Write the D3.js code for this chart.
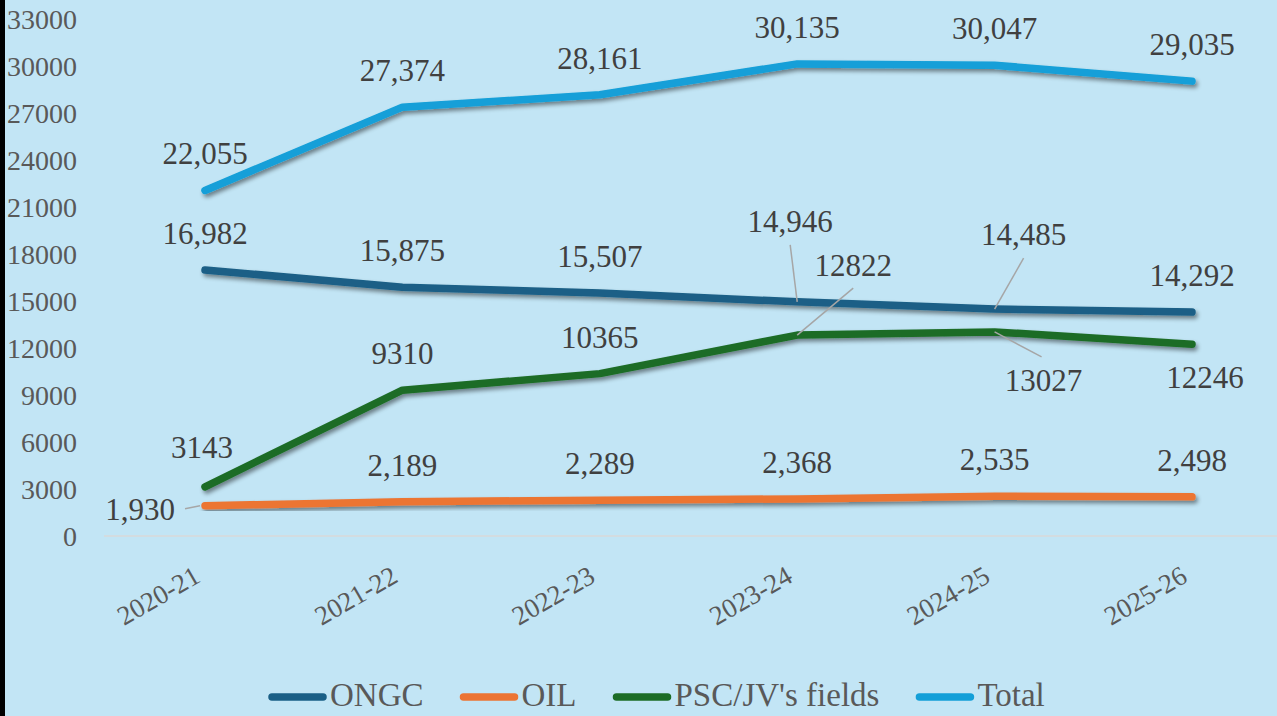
<!DOCTYPE html>
<html><head><meta charset="utf-8">
<script src="https://cdn.jsdelivr.net/npm/d3@7"></script>
<style>
html,body{margin:0;padding:0;background:#C2E5F5;}
svg{display:block;}
</style></head>
<body>
<svg id="c" width="1277" height="716"></svg>
<script>
const categories = ["2020-21","2021-22","2022-23","2023-24","2024-25","2025-26"];
const ongcValues = [16982,15875,15507,14946,14485,14292];
const oilValues = [1930,2189,2289,2368,2535,2498];
const pscValues = [3143,9310,10365,12822,13027,12246];
const totalValues = [22055,27374,28161,30135,30047,29035];
const yTickValues = [0,3000,6000,9000,12000,15000,18000,21000,24000,27000,30000,33000];
const seriesNames = ["ONGC","OIL","PSC/JV's fields","Total"];

const fmtComma = d3.format(",");
const fmtPlain = d3.format("d");
const series = [
  {name: seriesNames[0], values: ongcValues, color: "#1A5F86", fmt: fmtComma},
  {name: seriesNames[1], values: oilValues, color: "#EC7433", fmt: fmtComma},
  {name: seriesNames[2], values: pscValues, color: "#1C6C26", fmt: fmtPlain},
  {name: seriesNames[3], values: totalValues, color: "#139FD8", fmt: fmtComma}
];
const labelOffsets = {
  "0-3": {dx: -7, dy: -70, leader: [[0,0],[-7,-57]]},
  "0-4": {dx: 29, dy: -64, leader: [[0,0],[29,-51]]},
  "2-3": {dx: 56, dy: -59, leader: [[0,0],[56,-47]]},
  "2-4": {dx: 49, dy: 59, leader: [[0,0],[47,25]]},
  "2-5": {dx: 13, dy: 44},
  "2-0": {dx: -3, dy: -29},
  "1-0": {dx: -65, dy: 14, leader: [[-5,0],[-20,3]]}
};

const FONT = 'Liberation Serif';
const svg = d3.select("#c");
svg.append("rect").attr("width",1277).attr("height",716).attr("fill","#C2E5F5");
svg.append("rect").attr("x",0).attr("y",0).attr("width",5).attr("height",716).attr("fill","#000");

const defs = svg.append("defs");
const f = defs.append("filter").attr("id","sh").attr("x","-10%").attr("y","-50%").attr("width","120%").attr("height","200%");
f.append("feDropShadow").attr("dx",2).attr("dy",3).attr("stdDeviation",2.2)
  .attr("flood-color","#000").attr("flood-opacity",0.45);

const x = d3.scalePoint().domain(categories).range([205,1192]);
const y = d3.scaleLinear().domain([0,33000]).range([536,19]);

svg.append("line").attr("x1",104).attr("x2",1290).attr("y1",y(0)).attr("y2",y(0))
  .attr("stroke","#D9D9D9").attr("stroke-width",1.5);

const yAxis = d3.axisLeft(y).tickValues(yTickValues).tickSize(0).tickPadding(0).tickFormat(fmtPlain);
const gy = svg.append("g").attr("transform","translate(77,0)").call(yAxis);
gy.select(".domain").remove();
gy.selectAll("text").attr("font-family",FONT).attr("font-size",28).attr("fill","#595959")
  .attr("dy","0.34em").attr("text-anchor","end");

const xAxis = d3.axisBottom(x).tickSize(0).tickPadding(0);
const gx = svg.append("g").call(xAxis);
gx.select(".domain").remove();
gx.selectAll(".tick").attr("transform", d => `translate(${x(d)-3},581)`);
gx.selectAll("text").attr("font-family",FONT).attr("font-size",27).attr("fill","#595959")
  .attr("text-anchor","end").attr("dy",0).attr("y",0).attr("transform","rotate(-30)");

const line = d3.line().x((d,i)=>x(categories[i])).y(d=>y(d));
const gl = svg.append("g");
series.forEach(s => {
  gl.append("path").datum(s.values).attr("d",line).attr("fill","none")
    .attr("stroke",s.color).attr("stroke-width",7.5).attr("stroke-linecap","round")
    .attr("stroke-linejoin","round").attr("filter","url(#sh)");
});

const glab = svg.append("g");
series.forEach((s,si) => {
  s.values.forEach((v,pi) => {
    const px = x(categories[pi]), py = y(v);
    const o = labelOffsets[si+"-"+pi] || {dx: 0, dy: -26};
    if (o.leader) {
      glab.append("line")
        .attr("x1",px+o.leader[0][0]).attr("y1",py+o.leader[0][1])
        .attr("x2",px+o.leader[1][0]).attr("y2",py+o.leader[1][1])
        .attr("stroke","#A6A6A6").attr("stroke-width",1.5);
    }
    glab.append("text").attr("x",px+o.dx).attr("y",py+o.dy)
      .attr("text-anchor","middle").attr("font-family",FONT).attr("font-size",31)
      .attr("fill","#404040").text(s.fmt(v));
  });
});

const gLeg = svg.append("g");
let lx = 268;
series.forEach(s => {
  gLeg.append("line").attr("x1",lx+4).attr("x2",lx+55).attr("y1",697).attr("y2",697)
    .attr("stroke",s.color).attr("stroke-width",7.5).attr("stroke-linecap","round");
  const t = gLeg.append("text").attr("x",lx+62).attr("y",706).attr("font-family",FONT)
    .attr("font-size",33).attr("fill","#595959").text(s.name);
  const w = t.node().getComputedTextLength();
  lx += 62 + w + 36;
});
</script>
</body></html>
